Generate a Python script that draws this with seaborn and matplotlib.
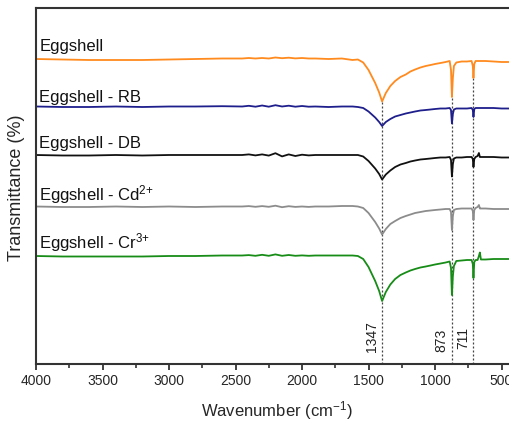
import matplotlib
matplotlib.use("Agg")
import matplotlib.pyplot as plt
import numpy as np
import pandas as pd
import seaborn as sns
from matplotlib.ticker import MultipleLocator

# ---------------- data ----------------
wavenumber = [4000, 3800, 3600, 3400, 3200, 3000, 2800, 2600, 2450, 2400,
              2350, 2300, 2250, 2200, 2150, 2100, 2050, 2000, 1950, 1900,
              1800, 1700, 1620, 1580, 1540, 1500, 1450, 1420, 1398, 1370,
              1336, 1300, 1260, 1220, 1185, 1150, 1110, 1070, 1034, 1000,
              959, 920, 890, 880, 873, 866, 858, 840, 800, 760,
              725, 716, 711, 705, 695, 680, 670, 663, 655, 620,
              560, 500, 450, 380]

eggshell = [305, 304.5, 304, 304, 304, 304.5, 305, 305.5, 305.5, 306,
            305.5, 306, 305.5, 306.5, 305.8, 306.3, 305.6, 306, 305.5, 305.5,
            305, 305.5, 304, 304.5, 301.5, 294, 281, 271.5, 262.5, 271,
            278, 283, 287, 289.5, 292.5, 294.5, 296.5, 298, 299, 300,
            301, 302, 303, 294, 267, 286, 298, 301.5, 302.5, 302.5,
            303, 298, 286, 300, 303, 303, 303, 303, 303, 303,
            302.5, 302, 302, 302]

eggshell_rb = [257.5, 257, 257, 257.5, 257, 257.5, 257.5, 257.8, 257.5, 258.2,
               257.3, 258.5, 257.3, 258.8, 257.5, 258.3, 257.3, 258, 257.3, 257.5,
               257, 257.5, 257.5, 257, 256, 252.5, 246.5, 242, 238, 242,
               245, 247.5, 249, 250.5, 251.5, 252.5, 253.5, 254, 254.5, 255,
               255.5, 255.5, 256, 254, 240.5, 250, 254.5, 255.5, 255.5, 255.5,
               256, 254, 247, 255, 256, 256, 256, 256, 256, 256,
               256, 255.5, 255.5, 255.5]

eggshell_db = [209, 208.5, 208.5, 209, 208.5, 209, 209, 209, 209, 209.6,
               208.6, 209.6, 208.4, 210.8, 207.6, 209.6, 208, 209.3, 208.6, 209,
               209, 209, 209, 209, 207.5, 203, 195.5, 190, 184.5, 189.5,
               193.5, 197, 199.5, 201, 202.5, 203.5, 204.5, 205, 205.5, 206,
               206.5, 206.5, 207, 204, 187.5, 200, 205.5, 206.5, 206.5, 207,
               207, 205, 197, 205, 207, 208, 211, 207, 207, 207,
               207, 206.5, 206.5, 206.5]

eggshell_cd = [157.5, 157, 157, 157.5, 157, 157.5, 157, 157.5, 157.5, 157.9,
               157.2, 157.9, 157.2, 158.3, 156.8, 157.8, 157.1, 157.5, 157.1, 157.5,
               157.5, 158, 158, 157.5, 156, 151, 142, 135.5, 129.5, 135,
               140, 143, 146, 148, 149.5, 151, 152, 153, 153.5, 154,
               154.5, 155, 155, 152, 134, 148, 154, 155, 155.5, 155.5,
               155.5, 153, 144, 154, 156, 157, 159, 155.5, 155.5, 155.5,
               155, 155, 155, 155]

eggshell_cr = [108, 107.5, 107.5, 107.5, 107.5, 108, 108, 108.5, 108.5, 108.9,
               108.2, 109.2, 108.2, 109.6, 108.2, 109, 108.2, 108.6, 108.2, 108.5,
               108.5, 108.5, 108.5, 108, 105, 97, 83, 73, 63, 72,
               79.5, 85, 89, 91.5, 93.5, 95, 96.5, 97.5, 98.5, 99.5,
               100.5, 101.5, 102.5, 96, 69, 88, 98, 103, 103.5, 104,
               104, 100, 86, 102, 104, 104, 108, 111.5, 104.5, 104.5,
               105, 105, 105, 105]

series_names = ["Eggshell", "Eggshell - RB", "Eggshell - DB",
                "Eggshell - Cd$^{2{+}}$", "Eggshell - Cr$^{3{+}}$"]
series_values = [eggshell, eggshell_rb, eggshell_db, eggshell_cd, eggshell_cr]
series_colors = ["#FF8A1E", "#1E1E8C", "#111111", "#8C8C8C", "#178C17"]
label_heights = [313.5, 262.3, 215.7, 164, 115.7]

peak_positions = [1398, 873, 711]
peak_labels = ["1347", "873", "711"]
peak_label_heights = [27, 24, 26]

# ---------------- styling ----------------
sns.set_style("ticks")
plt.rcParams["font.family"] = ["Liberation Sans", "DejaVu Sans"]
plt.rcParams["mathtext.default"] = "regular"

fig = plt.figure(figsize=(5.09, 4.22), dpi=100)
ax = fig.add_axes([36 / 509, 58 / 422, 481.5 / 509, 356 / 422])

frames = []
for name, vals in zip(series_names, series_values):
    frames.append(pd.DataFrame({"wavenumber": wavenumber,
                                "value": vals, "sample": name}))
df = pd.concat(frames, ignore_index=True)

sns.lineplot(data=df, x="wavenumber", y="value", hue="sample",
             hue_order=series_names, palette=series_colors,
             estimator=None, sort=False, legend=False, linewidth=1.3, ax=ax)

# dotted guide lines from the bottom to the top spectrum
for pos, lab, lh in zip(peak_positions, peak_labels, peak_label_heights):
    top = eggshell[wavenumber.index(pos)]
    ax.vlines(pos, 0, top, colors="#444444", linestyles=(0, (1.6, 1.6)),
              linewidth=0.9, zorder=1)
    ax.annotate(lab, xy=(pos, lh), xytext=(-10.5, 0),
                textcoords="offset pixels", rotation=90,
                ha="center", va="center", fontsize=10, color="#222222")

for name, lh in zip(series_names, label_heights):
    ax.text(3975, lh, name, fontsize=12, ha="left", va="baseline",
            color="#111111")

ax.set_xlim(4000, 380)
ax.set_ylim(0, 356)
ax.xaxis.set_major_locator(MultipleLocator(500))
ax.xaxis.set_minor_locator(MultipleLocator(250))
ax.set_yticks([])
ax.tick_params(axis="x", which="major", direction="out", length=4,
               width=1.3, labelsize=10, pad=3.5, color="#333333")
ax.tick_params(axis="x", which="minor", direction="out", length=3,
               width=1.2, color="#333333")
for side in ["left", "bottom", "top", "right"]:
    ax.spines[side].set_linewidth(1.5)
    ax.spines[side].set_color("#333333")

ax.set_xlabel("Wavenumber (cm$^{-1}$)", fontsize=12, labelpad=8)
ax.set_ylabel("Transmittance (%)", fontsize=13)
ax.yaxis.set_label_coords(-0.023, 0.494)

fig.savefig("out.png", dpi=100)
